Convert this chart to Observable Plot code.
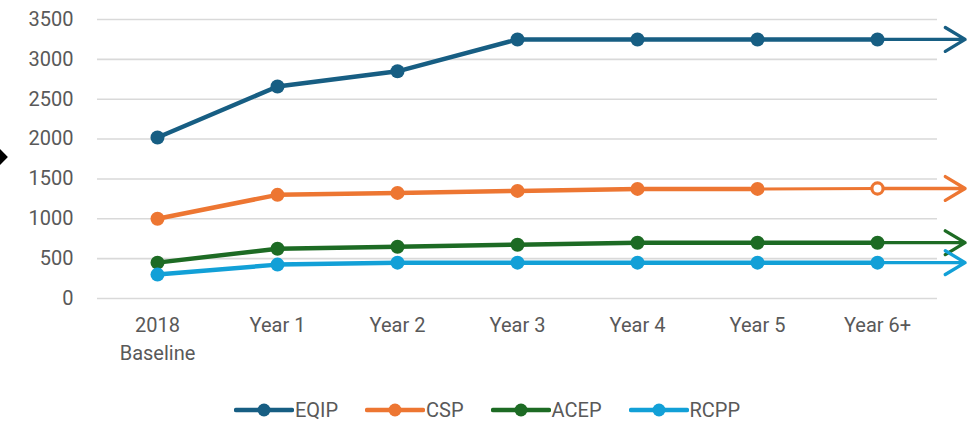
<!DOCTYPE html>
<html>
<head>
<meta charset="utf-8">
<script src="https://cdn.jsdelivr.net/npm/d3@7"></script>
<script src="https://cdn.jsdelivr.net/npm/@observablehq/plot@0.6"></script>
<style>
  html, body { margin: 0; padding: 0; background: #fff; }
  body { width: 971px; height: 423px; position: relative; overflow: hidden; font-family: Roboto, "Liberation Sans", sans-serif; }
  #diamond { position: absolute; left: -9px; top: 150px; width: 14px; height: 14px; background: #000; transform: rotate(45deg); }
  #legend { display: flex; justify-content: center; align-items: center; gap: 27px; font-size: 20px; color: #595959; margin-top: 10px; padding-left: 3px; }
  .item { display: flex; align-items: center; gap: 1px; }
</style>
</head>
<body>
<div id="diamond"></div>
<div id="chart"></div>
<div id="legend"></div>
<script>
const categories = ["2018\nBaseline", "Year 1", "Year 2", "Year 3", "Year 4", "Year 5", "Year 6+"];
const seriesNames = ["EQIP", "CSP", "ACEP", "RCPP"];
const colors = ["#175e83", "#ed7632", "#1d6b24", "#12a0d7"];
const EQIP = [2020, 2660, 2850, 3250, 3250, 3250, 3250];
const CSP  = [1000, 1300, 1325, 1350, 1375, 1375, 1380];
const ACEP = [450, 625, 650, 675, 700, 700, 700];
const RCPP = [300, 425, 450, 450, 450, 450, 450];
const solidEnd = [6, 5, 6, 6];      // last index drawn with the thick line
const hollowLast = [false, true, false, false];
const yTicks = [0, 500, 1000, 1500, 2000, 2500, 3000, 3500];
const arrowReach = 0.73;            // how far past the last category the arrow extends

const values = [EQIP, CSP, ACEP, RCPP];
const rows = [];
values.forEach((vals, s) => vals.forEach((v, i) => rows.push({series: seriesNames[s], s, i, v})));

const thick = rows.filter(d => d.i <= solidEnd[d.s]);
const thin = rows.filter(d => d.i >= solidEnd[d.s] && solidEnd[d.s] < categories.length - 1);
const last = rows.filter(d => d.i === categories.length - 1);

const marks = [
  Plot.gridY(yTicks, {stroke: "#d9d9d9", strokeWidth: 1.6, strokeOpacity: 1}),
  Plot.axisY(yTicks, {tickSize: 0, tickPadding: 24, fontSize: 20, fill: "#595959", label: null, tickFormat: d => String(d)}),
  Plot.axisX(d3.range(categories.length), {tickSize: 0, tickPadding: 14, fontSize: 20, fill: "#595959", label: null, lineHeight: 1.4, lineAnchor: "top", tickFormat: i => categories[i]}),
];
seriesNames.forEach((name, s) => {
  marks.push(Plot.arrow(last.filter(d => d.s === s), {
    x1: "i", y1: "v", x2: d => d.i + arrowReach, y2: "v",
    stroke: colors[s], strokeWidth: 3.3, headLength: 10.5, headAngle: 62, bend: 0
  }));
});
seriesNames.forEach((name, s) => {
  marks.push(Plot.line(thin.filter(d => d.s === s), {x: "i", y: "v", stroke: colors[s], strokeWidth: 3}));
  marks.push(Plot.line(thick.filter(d => d.s === s), {x: "i", y: "v", stroke: colors[s], strokeWidth: 4.5, strokeLinejoin: "round"}));
  marks.push(Plot.dot(rows.filter(d => d.s === s && !(hollowLast[s] && d.i === categories.length - 1)), {x: "i", y: "v", r: 7, fill: colors[s], stroke: "none"}));
  marks.push(Plot.dot(rows.filter(d => d.s === s && hollowLast[s] && d.i === categories.length - 1), {x: "i", y: "v", r: 5.6, fill: "#fff", stroke: colors[s], strokeWidth: 3.2}));
});

const chart = Plot.plot({
  width: 971,
  height: 388,
  marginLeft: 97,
  marginRight: 34,
  marginTop: 19,
  marginBottom: 90,
  style: {fontFamily: "Roboto, 'Liberation Sans', sans-serif", background: "#fff", overflow: "visible"},
  x: {type: "linear", domain: [-0.5, categories.length - 0.5]},
  y: {domain: [0, 3500]},
  marks
});
document.getElementById("chart").appendChild(chart);

const legend = document.getElementById("legend");
seriesNames.forEach((name, s) => {
  const item = document.createElement("div");
  item.className = "item";
  item.innerHTML = `<svg width="60" height="16"><line x1="2" x2="58" y1="8" y2="8" stroke="${colors[s]}" stroke-width="4.5" stroke-linecap="round"/><circle cx="30" cy="8" r="6.5" fill="${colors[s]}"/></svg><span>${name}</span>`;
  legend.appendChild(item);
});
</script>
</body>
</html>
